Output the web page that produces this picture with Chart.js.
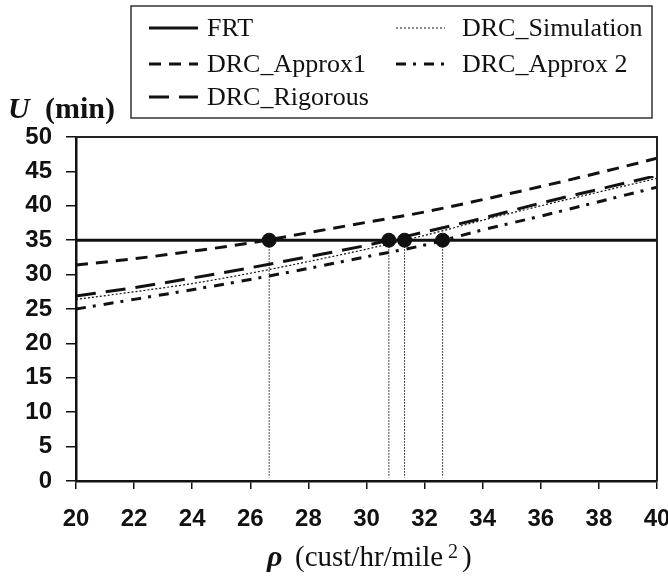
<!DOCTYPE html>
<html>
<head>
<meta charset="utf-8">
<script src="https://cdn.jsdelivr.net/npm/chart.js@4.4.1/dist/chart.umd.min.js"></script>
<style>
  html, body { margin: 0; padding: 0; background: #fff; }
  #wrap { width: 668px; height: 579px; position: relative; }
</style>
</head>
<body>
<div id="wrap"><canvas id="chart"></canvas></div>
<script>
// rho values (cust/hr/mile^2)
const rho = [20, 22, 24, 26, 28, 30, 32, 34, 36, 38, 40]
// U (min) per curve
const frt        = [35, 35, 35, 35, 35, 35, 35, 35, 35, 35, 35]
const approx1    = [31.4, 32.3, 33.4, 34.6, 36.1, 37.6, 39.1, 40.9, 42.8, 44.8, 46.9]
const rigorous   = [26.9, 28.1, 29.5, 31.0, 32.6, 34.25, 36.2, 38.2, 40.4, 42.4, 44.4]
const simulation = [26.4, 27.5, 28.7, 30.2, 31.9, 33.7, 35.7, 37.9, 40.0, 42.0, 44.0]
const approx2    = [25.0, 26.4, 27.8, 29.3, 30.9, 32.6, 34.3, 36.5, 38.5, 40.6, 42.7]
// where each DRC curve meets FRT
const crossings = [26.65, 30.77, 31.31, 32.62]
const crossU = 35
const xTicks = [20, 22, 24, 26, 28, 30, 32, 34, 36, 38, 40]
const yTicks = [0, 5, 10, 15, 20, 25, 30, 35, 40, 45, 50]

const ink = '#111'

function pts(ys) {
    return rho.map((x, i) => ({x: x, y: ys[i]}))
}

let datasets = [
    {label: 'FRT', data: pts(frt), borderWidth: 3, borderDash: []},
    {label: 'DRC_Simulation', data: pts(simulation), borderWidth: 1.2, borderDash: [2, 2]},
    {label: 'DRC_Approx1', data: pts(approx1), borderWidth: 3, borderDash: [12, 8]},
    {label: 'DRC_Approx 2', data: pts(approx2), borderWidth: 3, borderDash: [10, 7, 3, 8]},
    {label: 'DRC_Rigorous', data: pts(rigorous), borderWidth: 3, borderDash: [20, 10]},
].map(d => Object.assign(d, {
    borderColor: ink, pointRadius: 0, fill: false,
    cubicInterpolationMode: 'monotone', tension: 0.4
}))

// dropped verticals from the crossing points
crossings.forEach(c => {
    datasets.push({
        label: '', data: [{x: c, y: crossU}, {x: c, y: 0.5}],
        borderColor: ink, borderWidth: 1, borderDash: [1.5, 1.5], pointRadius: 0
    })
})
// crossing markers
datasets.push({
    label: '', data: crossings.map(c => ({x: c, y: crossU})),
    showLine: false, pointRadius: 7, pointHoverRadius: 7,
    pointBackgroundColor: ink, pointBorderColor: ink, borderColor: ink
})

const legendItems = [
    {ds: 0, col: 0, row: 0},
    {ds: 1, col: 1, row: 0},
    {ds: 2, col: 0, row: 1},
    {ds: 3, col: 1, row: 1},
    {ds: 4, col: 0, row: 2},
]

const decor = {
    id: 'decor',
    afterDraw(chart) {
        const ctx = chart.ctx
        const a = chart.chartArea
        ctx.save()
        // frame top/right
        ctx.strokeStyle = '#222'
        ctx.lineWidth = 2
        ctx.beginPath()
        ctx.moveTo(a.left, a.top)
        ctx.lineTo(a.right, a.top)
        ctx.lineTo(a.right, a.bottom)
        ctx.stroke()

        // legend box
        ctx.lineWidth = 1.5
        ctx.strokeStyle = '#333'
        ctx.strokeRect(131, 6, 521, 112)
        const colLine = [149, 396], colText = [207, 462], rowY = [28, 64, 97]
        ctx.font = "26px 'Liberation Serif'"
        ctx.textBaseline = 'middle'
        ctx.fillStyle = ink
        legendItems.forEach(it => {
            const d = chart.data.datasets[it.ds]
            const y = rowY[it.row]
            ctx.strokeStyle = ink
            ctx.lineWidth = d.borderWidth
            ctx.setLineDash(d.borderDash)
            ctx.beginPath()
            ctx.moveTo(colLine[it.col], y)
            ctx.lineTo(colLine[it.col] + 49, y)
            ctx.stroke()
            ctx.setLineDash([])
            ctx.fillText(d.label, colText[it.col], y + 1)
        })

        // y title
        ctx.textBaseline = 'alphabetic'
        ctx.font = "italic bold 30px 'Liberation Serif'"
        ctx.fillText('U', 8, 118)
        ctx.font = "bold 30px 'Liberation Serif'"
        ctx.fillText('(min)', 45, 118)

        // x title
        ctx.font = "italic bold 30px 'Liberation Serif'"
        ctx.fillText('\u03C1', 267, 566)
        ctx.font = "29px 'Liberation Serif'"
        ctx.fillText('(cust/hr/mile', 295, 566)
        ctx.font = "20px 'Liberation Serif'"
        ctx.fillText('2', 448, 558)
        ctx.font = "29px 'Liberation Serif'"
        ctx.fillText(')', 462, 566)
        ctx.restore()
    }
}

new Chart(document.getElementById('chart').getContext('2d'), {
    type: 'line',
    data: {datasets: datasets},
    options: {
        responsive: true,
        maintainAspectRatio: false,
        animation: false,
        events: [],
        layout: {padding: {top: 137, right: 11, left: 0, bottom: 0}},
        plugins: {legend: {display: false}, tooltip: {enabled: false}},
        scales: {
            x: {
                type: 'linear', min: 20, max: 40,
                afterFit: s => { s.height = 98; s.paddingLeft = 0; s.paddingRight = 0 },
                afterBuildTicks: s => { s.ticks = xTicks.map(v => ({value: v})) },
                grid: {drawOnChartArea: false, drawTicks: true, tickLength: 8, color: ink, lineWidth: 1.5},
                border: {display: true, color: ink, width: 2.5},
                ticks: {color: ink, padding: 16, maxRotation: 0, font: {family: 'Liberation Sans', size: 24, weight: 'bold'}}
            },
            y: {
                min: 0, max: 50,
                afterFit: s => { s.width = 76; s.paddingTop = 0; s.paddingBottom = 0 },
                afterBuildTicks: s => { s.ticks = yTicks.map(v => ({value: v})) },
                grid: {drawOnChartArea: false, drawTicks: true, tickLength: 10, color: ink, lineWidth: 1.5},
                border: {display: true, color: ink, width: 2.5},
                ticks: {color: ink, padding: 14, font: {family: 'Liberation Sans', size: 24, weight: 'bold'}}
            }
        }
    },
    plugins: [decor]
})
</script>
</body>
</html>
